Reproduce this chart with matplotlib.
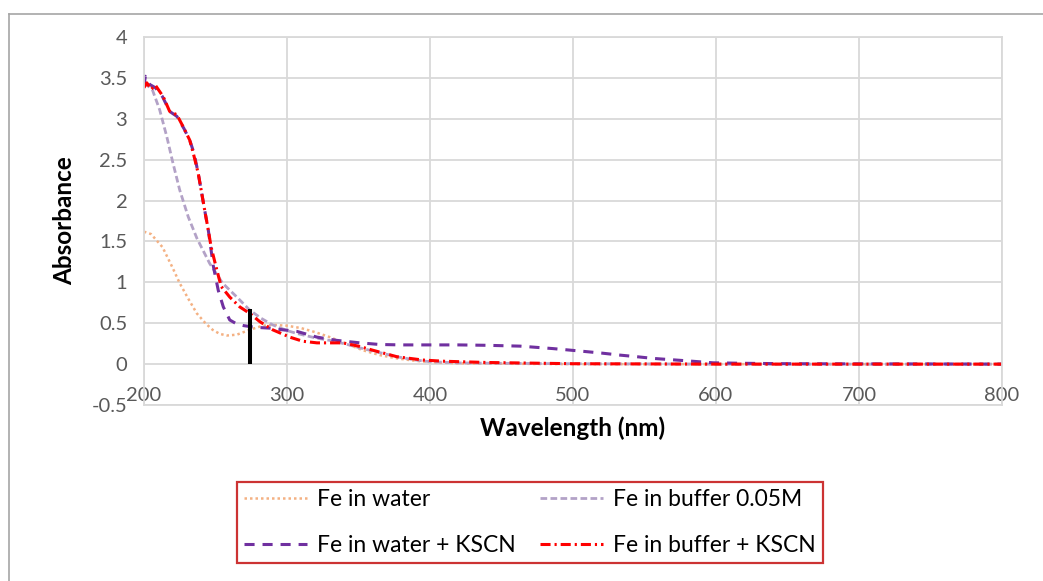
import matplotlib
matplotlib.use('Agg')
from matplotlib import pyplot as plt
from matplotlib.lines import Line2D

# Fe in water (dotted orange)
wl_water = [200, 205, 213, 220, 225, 231, 237, 243, 248, 253, 258, 265, 274,
            283, 290, 300, 310, 320, 330, 340, 353, 365, 377, 390, 400, 420,
            450, 500, 600, 700, 800]
abs_water = [1.62, 1.59, 1.43, 1.18, 0.99, 0.80, 0.62, 0.50, 0.42, 0.37, 0.35,
             0.36, 0.42, 0.47, 0.48, 0.47, 0.44, 0.39, 0.33, 0.26, 0.17, 0.11,
             0.07, 0.04, 0.025, 0.01, 0.005, 0, 0, 0, 0]

# Fe in buffer 0.05M (light purple dashed)
wl_buffer = [200, 203, 206, 211, 216, 220, 225, 231, 237, 246, 255, 265, 274,
             282, 290, 300, 307, 320, 330, 340, 353, 365, 377, 390, 400, 420,
             450, 500, 600, 700, 800]
abs_buffer = [3.43, 3.40, 3.35, 3.11, 2.78, 2.48, 2.13, 1.80, 1.54, 1.23, 0.99,
              0.82, 0.66, 0.56, 0.48, 0.41, 0.375, 0.32, 0.29, 0.25, 0.19, 0.14,
              0.09, 0.05, 0.03, 0.015, 0.01, 0.005, 0, 0, 0]

# Fe in water + KSCN (purple dashed)
wl_water_kscn = [200, 201, 204, 208, 213, 218, 223, 228, 232, 235, 238, 240,
                 242.5, 245, 248.5, 252, 255.5, 260, 265, 270, 278, 288, 297,
                 307, 321, 335, 351, 365, 380, 400, 420, 440, 463, 486, 505,
                 520, 533, 545, 556, 568, 580, 598, 620, 650, 700, 750, 800]
abs_water_kscn = [3.40, 3.52, 3.42, 3.38, 3.27, 3.09, 3.03, 2.88, 2.74, 2.58,
                  2.33, 2.13, 1.88, 1.64, 1.20, 0.90, 0.70, 0.54, 0.49, 0.47,
                  0.45, 0.44, 0.42, 0.40, 0.33, 0.29, 0.26, 0.24, 0.235, 0.235,
                  0.235, 0.23, 0.22, 0.19, 0.16, 0.135, 0.11, 0.09, 0.07, 0.055,
                  0.04, 0.016, 0.01, 0.005, 0.003, 0.002, 0]

# Fe in buffer + KSCN (red dash-dot)
wl_buffer_kscn = [200, 202, 205, 208, 213.5, 218, 223, 227.5, 232, 234.5, 238,
                  240, 242.5, 245, 247, 251, 254, 260, 267, 274, 281, 290, 302,
                  311, 321, 330, 339, 350, 360, 377, 395, 410, 440, 500, 600,
                  700, 800]
abs_buffer_kscn = [3.38, 3.44, 3.36, 3.41, 3.27, 3.09, 3.05, 2.90, 2.74, 2.58,
                   2.33, 2.13, 1.88, 1.64, 1.43, 1.15, 0.95, 0.82, 0.70, 0.62,
                   0.52, 0.42, 0.33, 0.28, 0.26, 0.26, 0.26, 0.22, 0.17, 0.09,
                   0.05, 0.035, 0.02, 0.005, 0, 0, 0]

marker_wl = 274
marker_top = 0.67

x_ticks = [200, 300, 400, 500, 600, 700, 800]
y_ticks = [-0.5, 0, 0.5, 1, 1.5, 2, 2.5, 3, 3.5, 4]
y_labels = ['-0.5', '0', '0.5', '1', '1.5', '2', '2.5', '3', '3.5', '4']

plt.rcParams['font.family'] = ['Lato', 'DejaVu Sans']

fig = plt.figure(figsize=(10.43, 5.81), dpi=100)
ax = fig.add_axes([0.138, 0.3029, 0.8227, 0.6334])

grid_c = '#d9d9d9'
l_water, = ax.plot(wl_water, abs_water, color='#F4B183', lw=1.8,
                   dashes=(1, 1.2), label='Fe in water')
l_buffer, = ax.plot(wl_buffer, abs_buffer, color='#B3A2C7', lw=2.0,
                    dashes=(2.4, 1.2), label='Fe in buffer 0.05M')
l_wk, = ax.plot(wl_water_kscn, abs_water_kscn, color='#7030A0', lw=2.2,
                dashes=(3.3, 2.6), label='Fe in water + KSCN')
l_bk, = ax.plot(wl_buffer_kscn, abs_buffer_kscn, color='#FF0000', lw=2.2,
                dashes=(3.3, 1.3, 0.7, 1.3), label='Fe in buffer + KSCN')
ax.plot([marker_wl, marker_wl], [0, marker_top], color='black', lw=2.9,
        solid_capstyle='butt')

ax.set_xlim(200, 800)
ax.set_ylim(-0.5, 4)
ax.set_xticks(x_ticks)
ax.set_yticks(y_ticks)
ax.set_yticklabels(y_labels)
ax.grid(True, color=grid_c, lw=1.3)
ax.set_axisbelow(True)
for s in ax.spines.values():
    s.set_color(grid_c)
    s.set_linewidth(1.3)
ax.tick_params(length=0, labelsize=14.5, labelcolor='#595959')
ax.tick_params(axis='x', pad=-13)
ax.tick_params(axis='y', pad=12)

ax.set_xlabel('Wavelength (nm)', fontsize=17.5, fontweight='bold', labelpad=8)
ax.set_ylabel('Absorbance', fontsize=17.5, fontweight='bold', labelpad=11)

# column-wise fill: row 1 = water, buffer; row 2 = the KSCN pair
handles = [l_water, l_wk, l_buffer, l_bk]
labels = [h.get_label() for h in handles]
leg = fig.legend(handles, labels, loc='center', ncol=2, mode='expand',
                 bbox_to_anchor=(0.2272, 0.0189, 0.5618, 0.1635),
                 fontsize=16.5, handlelength=2.75, handletextpad=0.45,
                 columnspacing=0.5, labelspacing=1.1, fancybox=False,
                 borderpad=0.3, borderaxespad=0)
leg.get_frame().set_edgecolor('#C00000')
leg.get_frame().set_linewidth(1.6)

# outer chart border
fig.add_artist(Line2D([9 / 1043, 9 / 1043], [0, 1 - 14 / 581],
                      transform=fig.transFigure, color='#a6a6a6', lw=1.2))
fig.add_artist(Line2D([9 / 1043, 1], [1 - 14 / 581, 1 - 14 / 581],
                      transform=fig.transFigure, color='#a6a6a6', lw=1.2))

fig.savefig('out.png', dpi=100)
